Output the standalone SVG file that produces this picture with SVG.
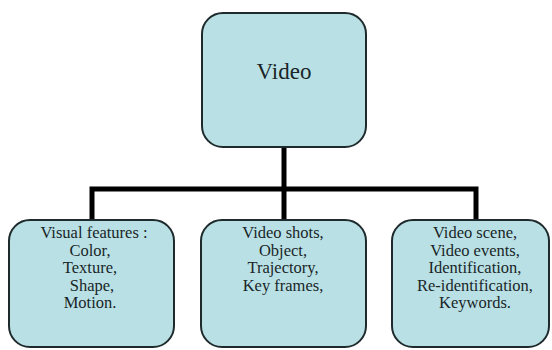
<svg xmlns="http://www.w3.org/2000/svg" width="552" height="350" viewBox="0 0 552 350">
<style>
.box{fill:#b9e1e5;stroke:#1e2a2c;stroke-width:2}
.t{font-family:'Liberation Serif','Times New Roman',serif;fill:#1a2628;text-anchor:middle}
.s{font-size:16.5px}
.conn{stroke:#000;stroke-width:5;fill:none;stroke-linejoin:miter}
</style>
<rect width="552" height="350" fill="#ffffff"/>
<g id="connectors">
<path class="conn" d="M284 147 V220 M92 220 V189 H476 V220"/>
</g>
<g id="video">
<rect class="box" x="202" y="13" width="164" height="134" rx="21"/>
<text class="t" x="284" y="79" font-size="23">Video</text>
</g>
<g id="visual">
<rect class="box" x="9" y="220" width="165" height="127" rx="21"/>
<text class="t s"><tspan x="94" y="238">Visual features :</tspan><tspan x="90" y="255.5">Color,</tspan><tspan x="90" y="273">Texture,</tspan><tspan x="92" y="290.5">Shape,</tspan><tspan x="90" y="308">Motion.</tspan></text>
</g>
<g id="shots">
<rect class="box" x="201" y="220" width="165" height="127" rx="21"/>
<text class="t s"><tspan x="283" y="238">Video shots,</tspan><tspan x="283" y="255.5">Object,</tspan><tspan x="283" y="273">Trajectory,</tspan><tspan x="283" y="290.5">Key frames,</tspan></text>
</g>
<g id="scene">
<rect class="box" x="392" y="220" width="157" height="127" rx="21"/>
<text class="t s"><tspan x="475" y="238">Video scene,</tspan><tspan x="475" y="255.5">Video events,</tspan><tspan x="475" y="273">Identification,</tspan><tspan x="475" y="290.5">Re-identification,</tspan><tspan x="475" y="308">Keywords.</tspan></text>
</g>
</svg>
